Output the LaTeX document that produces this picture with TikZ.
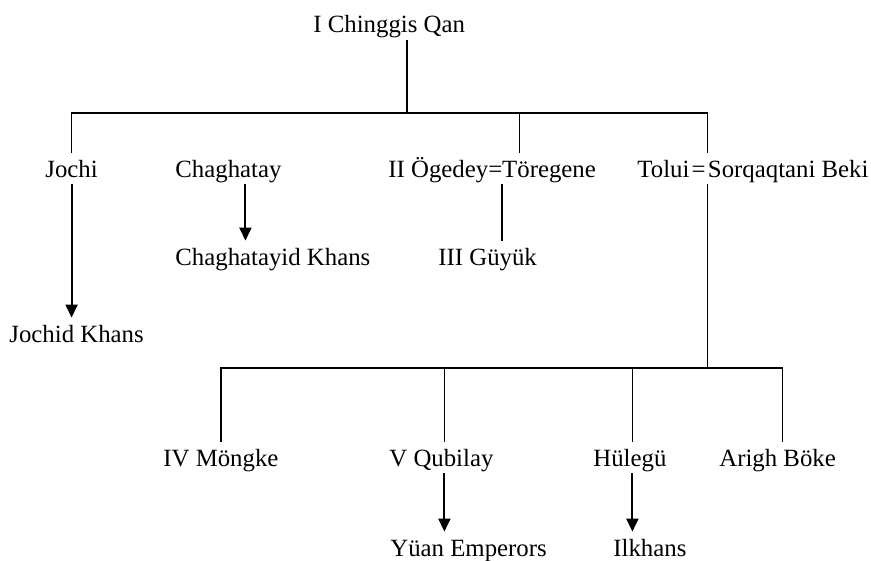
\documentclass[tikz,border=0pt]{standalone}
\usepackage{fontspec}
\setmainfont{Liberation Serif}
\usetikzlibrary{arrows.meta,positioning}

\begin{document}
\begin{tikzpicture}[x=0.5pt,y=-0.5pt]
	\useasboundingbox (0,0) rectangle (871,561);
	\tikzstyle{Name}=[font=\fontsize{12.4}{15}\selectfont,anchor=base west,inner xsep=0pt,inner ysep=1.5pt,text height=10.5pt,text depth=1.9pt]
	\tikzstyle{Line}=[line width=0.65pt]
	\tikzstyle{Descent}=[line width=1pt,-{Triangle[width=6pt,length=6.5pt]}]
	\node[Name] (chinggis) at (313,33) {I Chinggis Qan};
	\node[Name] (jochi) at (45,177) {Jochi};
	\node[Name] (chaghatay) at (175,177) {Chaghatay};
	\node[Name] (ogedey) at (388,177) {II Ögedey=Töregene};
	\node[Name] (tolui) at (637,177) {Tolui};
	\node[Name,inner xsep=0.75pt,right=0pt of tolui.base east,anchor=base west] (eq) {=};
	\node[Name,right=0pt of eq.base east,anchor=base west] (sorqaqtani) {Sorqaqtani Beki};
	\node[Name] (chagkhans) at (175,265) {Chaghatayid Khans};
	\node[Name] (guyuk) at (438,265) {III Güyük};
	\node[Name] (jochkhans) at (9,342) {Jochid Khans};
	\node[Name] (mongke) at (163,466) {IV Möngke};
	\node[Name] (qubilay) at (389,466) {V Qubilay};
	\node[Name] (hulegu) at (593,466) {Hülegü};
	\node[Name] (arigh) at (719,466) {Arigh Böke};
	\node[Name] (yuan) at (390,556) {Yüan Emperors};
	\node[Name] (ilkhans) at (613,556) {Ilkhans};
	% sons of Chinggis
	\coordinate (top) at (407,113);
	\draw[Line] (chinggis.south -| top) -- (top);
	\draw[Line] (jochi.north) |- (top) -| (eq.north east);
	\draw[Line] ([xshift=13.75pt]ogedey.north) -- ([xshift=13.75pt]ogedey.north |- top);
	\draw[Line] ([xshift=5pt]ogedey.south) -- ([xshift=5pt]ogedey.south |- guyuk.north);
	\draw[Descent] (jochi.south) -- (jochi.south |- jochkhans.north);
	\draw[Descent] ([xshift=8.5pt]chaghatay.south) -- ([xshift=8.5pt]chaghatay.south |- chagkhans.north);
	% sons of Tolui
	\coordinate (low) at (eq.south east |- 0,368);
	\draw[Line] (eq.south east) -- (low);
	\draw[Line] (mongke.north) |- (low) -| ([xshift=2.5pt]arigh.north);
	\draw[Line] ([xshift=1.5pt]qubilay.north) -- ([xshift=1.5pt]qubilay.north |- low);
	\draw[Line] ([xshift=1.25pt]hulegu.north) -- ([xshift=1.25pt]hulegu.north |- low);
	\draw[Descent] ([xshift=1.5pt]qubilay.south) -- ([xshift=1.5pt]qubilay.south |- yuan.north);
	\draw[Descent] ([xshift=1.25pt]hulegu.south) -- ([xshift=1.25pt]hulegu.south |- ilkhans.north);
\end{tikzpicture}
\end{document}
